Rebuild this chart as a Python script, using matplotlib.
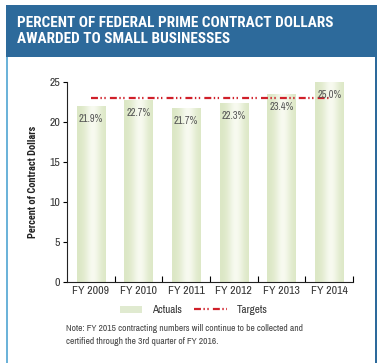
import numpy as np
import matplotlib
matplotlib.use("Agg")
import matplotlib.pyplot as plt
from matplotlib.patches import Rectangle, Patch
from matplotlib.lines import Line2D

plt.rcParams['font.family'] = ['Archivo Narrow', 'Roboto Condensed', 'Liberation Sans', 'DejaVu Sans']
plt.rcParams['lines.scale_dashes'] = False
BOLD = ['Roboto Condensed', 'IBM Plex Sans Condensed', 'Fira Sans Condensed', 'Liberation Sans']

years = ["FY 2009", "FY 2010", "FY 2011", "FY 2012", "FY 2013", "FY 2014"]
actuals = [21.9, 22.7, 21.7, 22.3, 23.4, 25.0]
targets = [23, 23, 23, 23, 23, 23]

title = "PERCENT OF FEDERAL PRIME CONTRACT DOLLARS\nAWARDED TO SMALL BUSINESSES"
note = ("Note: FY 2015 contracting numbers will continue to be collected and\n"
        "certified through the 3rd quarter of FY 2016.")

W, H = 378, 363
HEADER = '#2d6a9b'
EDGE = '#6cb3d9'
RED = '#d0202a'
TXT = '#333333'

fig = plt.figure(figsize=(W / 100, H / 100), dpi=100)
fig.patch.set_facecolor('white')

# ── frame + header band ───────────────────────────────────────────────────────
fig.patches.append(Rectangle((6 / W, 0), 2 / W, 1 - 57 / H, transform=fig.transFigure,
                             facecolor=EDGE, edgecolor='none'))
fig.patches.append(Rectangle((375 / W, 0), 2 / W, 1 - 57 / H, transform=fig.transFigure,
                             facecolor=HEADER, edgecolor='none'))
fig.patches.append(Rectangle((6 / W, 1 - 57 / H), 371 / W, 52 / H, transform=fig.transFigure,
                             facecolor=HEADER, edgecolor='none'))
fig.text(17 / W, 1 - 31 / H, title, color='white', fontsize=11, fontweight='bold',
         family=BOLD, va='center', ha='left', linespacing=1.15)

# ── axes ──────────────────────────────────────────────────────────────────────
ax = fig.add_axes([67 / W, 81 / H, 286 / W, 200 / H])
x = np.arange(len(years))
bw = 0.6

edge_c = np.array([0.86, 0.905, 0.77])
mid_c = np.array([0.97, 0.98, 0.94])
for xi, v in zip(x, actuals):
    t = np.linspace(0, 1, 40)
    prof = np.exp(-((t - 0.55) / 0.28) ** 2)
    img = edge_c[None, :] + (mid_c - edge_c)[None, :] * prof[:, None]
    ax.imshow(img[None, :, :], extent=[xi - bw / 2, xi + bw / 2, 0, v],
              aspect='auto', interpolation='bilinear', zorder=1)
    ax.annotate(f"{v:.1f}%", (xi, v), xytext=(0, -9), textcoords='offset points',
                ha='center', va='center', fontsize=7.5, color='#555555', zorder=3)
ax.set_xlim(-0.5, len(years) - 0.5)
ax.set_ylim(0, 25)

tgt_ls = (0, (5, 1.8, 1, 1.8, 1, 3))
ax.plot(x, targets, color=RED, lw=1.6, ls=tgt_ls, zorder=2, dash_capstyle='butt')

for s in ['top', 'right']:
    ax.spines[s].set_visible(False)
for s in ['left', 'bottom']:
    ax.spines[s].set_linewidth(0.8)
    ax.spines[s].set_color('#222222')

ax.set_yticks([0, 5, 10, 15, 20, 25])
ax.tick_params(axis='y', direction='out', length=3, width=0.8, labelsize=8.5,
               labelcolor=TXT, pad=2)
ax.set_xticks(x)
ax.set_xticklabels(years)
ax.tick_params(axis='x', which='major', length=0, labelsize=8.5, labelcolor=TXT, pad=3)
ax.set_xticks(np.arange(0.5, len(years)), minor=True)
ax.tick_params(axis='x', which='minor', direction='in', length=4, width=0.8)
ax.set_ylabel("Percent of Contract Dollars", fontsize=7.5, fontweight='bold',
              family=BOLD, color='#222222', labelpad=8)

# ── legend ────────────────────────────────────────────────────────────────────
leg_kw = dict(loc='center', frameon=False, fontsize=8, labelcolor=TXT, handletextpad=0.9)
fig.legend(handles=[Patch(facecolor='#e0ead0', edgecolor='none', label='Actuals')],
           bbox_to_anchor=(151 / W, 53 / H), handlelength=2.0, handleheight=0.6, **leg_kw)
fig.legend(handles=[Line2D([0], [0], color=RED, lw=1.6, ls=tgt_ls, label='Targets')],
           bbox_to_anchor=(231 / W, 53 / H), handlelength=3.0, **leg_kw)

fig.text(66 / W, 1 - 335 / H, note, fontsize=6.8, color='#444444', va='center',
         ha='left', linespacing=1.45)

fig.savefig("out.png", dpi=100, facecolor='white')
